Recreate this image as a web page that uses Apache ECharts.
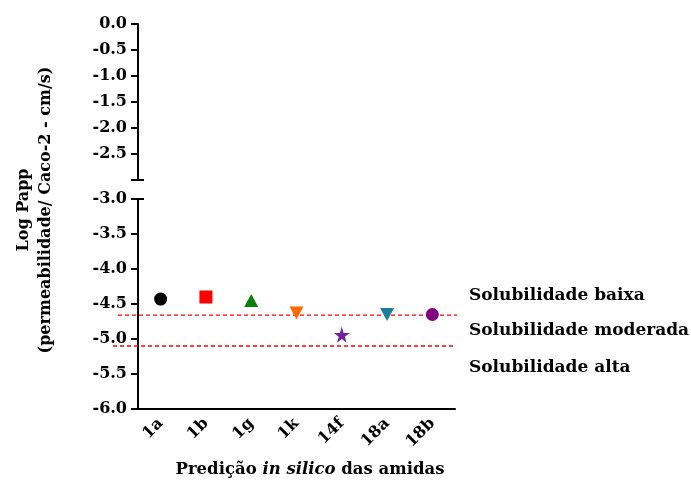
<!DOCTYPE html>
<html><head><meta charset="utf-8">
<script src="https://cdn.jsdelivr.net/npm/echarts@6/dist/echarts.min.js"></script>
<style>html,body{margin:0;padding:0;background:#fff}#chart{width:691px;height:480px}</style>
</head><body><div id="chart"></div>
<script>
// Predicted Caco-2 permeability (log Papp) per amide
const categories = ['1a', '1b', '1g', '1k', '14f', '18a', '18b'];
const logPapp = [-4.43, -4.40, -4.45, -4.63, -4.94, -4.65, -4.65];
// Threshold lines separating the solubility zones
const thresholds = [-4.66, -5.10];
const zoneLabels = ['Solubilidade baixa', 'Solubilidade moderada', 'Solubilidade alta'];
const yTitle = ['Log Papp', '(permeabilidade/ Caco-2 - cm/s)'];

const SERIF = '"DejaVu Serif", "Liberation Serif", serif';
const STAR = 'path://M50,0 L61,35 L98,35 L68,57 L79,91 L50,70 L21,91 L32,57 L2,35 L39,35 Z';
const markers = [
  { symbol: 'circle', color: '#000000', size: 13 },
  { symbol: 'rect', color: '#ff0000', size: 13 },
  { symbol: 'triangle', color: '#0a800a', size: [14, 13] },
  { symbol: 'triangle', rotate: 180, color: '#ff6a00', size: [14, 13] },
  { symbol: STAR, color: '#7020a0', size: 16 },
  { symbol: 'triangle', rotate: 180, color: '#1a7f9a', size: [14, 13] },
  { symbol: 'circle', color: '#800080', size: 13 }
];

const axisLine = { show: true, lineStyle: { color: '#000', width: 2 } };
const tickLabel = { color: '#000', fontFamily: SERIF, fontWeight: 'bold', fontSize: 16, margin: 11 };

const chart = echarts.init(document.getElementById('chart'));
chart.setOption({
  animation: false,
  backgroundColor: '#fff',
  grid: [
    { left: 138, right: 236, top: 24, height: 156 },
    { left: 138, right: 236, top: 199, height: 210 },
    { left: 113, right: 234, top: 199, height: 210 }
  ],
  xAxis: [
    { gridIndex: 0, type: 'category', data: categories, show: false },
    {
      gridIndex: 1, type: 'category', data: categories, boundaryGap: true,
      axisLine: axisLine,
      axisTick: { alignWithLabel: true, length: 7, lineStyle: { color: '#000', width: 2 } },
      axisLabel: Object.assign({}, tickLabel, { rotate: 45, margin: 12 })
    },
    { gridIndex: 2, type: 'value', min: 0, max: 344, show: false }
  ],
  yAxis: [
    {
      gridIndex: 0, type: 'value', min: -3, max: 0, interval: 0.5,
      axisLine: axisLine, splitLine: { show: false },
      axisTick: { show: true, length: 7, lineStyle: { color: '#000', width: 2 } },
      axisLabel: Object.assign({}, tickLabel, {
        formatter: v => (v <= -3 ? '' : v.toFixed(1))
      })
    },
    {
      gridIndex: 0, type: 'value', min: -3, max: 0, position: 'left',
      axisLine: { show: false }, splitLine: { show: false }, axisLabel: { show: false },
      axisTick: { show: true, inside: true, length: 6, customValues: [-3], lineStyle: { color: '#000', width: 2 } }
    },
    {
      gridIndex: 1, type: 'value', min: -6, max: -3, interval: 0.5,
      axisLine: axisLine, splitLine: { show: false },
      axisTick: { show: true, length: 7, lineStyle: { color: '#000', width: 2 } },
      axisLabel: Object.assign({}, tickLabel, { formatter: v => v.toFixed(1) })
    },
    {
      gridIndex: 1, type: 'value', min: -6, max: -3, position: 'left',
      axisLine: { show: false }, splitLine: { show: false }, axisLabel: { show: false },
      axisTick: { show: true, inside: true, length: 6, customValues: [-3], lineStyle: { color: '#000', width: 2 } }
    },
    { gridIndex: 2, type: 'value', min: -6, max: -3, show: false }
  ],
  series: [
    {
      type: 'line', xAxisIndex: 2, yAxisIndex: 4, symbol: 'none', silent: true,
      lineStyle: { color: '#ff0000', width: 1.3, type: [4, 3] },
      data: [[5, thresholds[0]], [344, thresholds[0]]]
    },
    {
      type: 'line', xAxisIndex: 2, yAxisIndex: 4, symbol: 'none', silent: true,
      lineStyle: { color: '#ff0000', width: 1.3, type: [4, 3] },
      data: [[0, thresholds[1]], [340, thresholds[1]]]
    },
    {
      type: 'scatter', xAxisIndex: 1, yAxisIndex: 2, z: 5,
      data: logPapp.map((v, i) => ({
        value: [categories[i], v],
        symbol: markers[i].symbol,
        symbolSize: markers[i].size,
        symbolRotate: markers[i].rotate || 0,
        itemStyle: { color: markers[i].color, opacity: 1 }
      }))
    }
  ],
  graphic: [
    {
      type: 'text', x: 24, y: 210, rotation: Math.PI / 2,
      style: { text: yTitle[0], font: 'bold 16px ' + SERIF, fill: '#000', align: 'center', verticalAlign: 'middle' }
    },
    {
      type: 'text', x: 46, y: 210, rotation: Math.PI / 2,
      style: { text: yTitle[1], font: 'bold 16px ' + SERIF, fill: '#000', align: 'center', verticalAlign: 'middle' }
    },
    {
      type: 'text', x: 310, y: 470,
      style: {
        text: '{b|Predição }{i|in silico}{b| das amidas}',
        align: 'center', verticalAlign: 'middle',
        rich: {
          b: { fontFamily: SERIF, fontWeight: 'bold', fontSize: 16.5, fill: '#000' },
          i: { fontFamily: SERIF, fontWeight: 'bold', fontStyle: 'italic', fontSize: 16.5, fill: '#000' }
        }
      }
    },
    {
      type: 'text', x: 469, y: 296,
      style: { text: zoneLabels[0], font: 'bold 17px ' + SERIF, fill: '#000', verticalAlign: 'middle' }
    },
    {
      type: 'text', x: 469, y: 331,
      style: { text: zoneLabels[1], font: 'bold 17px ' + SERIF, fill: '#000', verticalAlign: 'middle' }
    },
    {
      type: 'text', x: 469, y: 368,
      style: { text: zoneLabels[2], font: 'bold 17px ' + SERIF, fill: '#000', verticalAlign: 'middle' }
    }
  ]
});
</script>
</body></html>
